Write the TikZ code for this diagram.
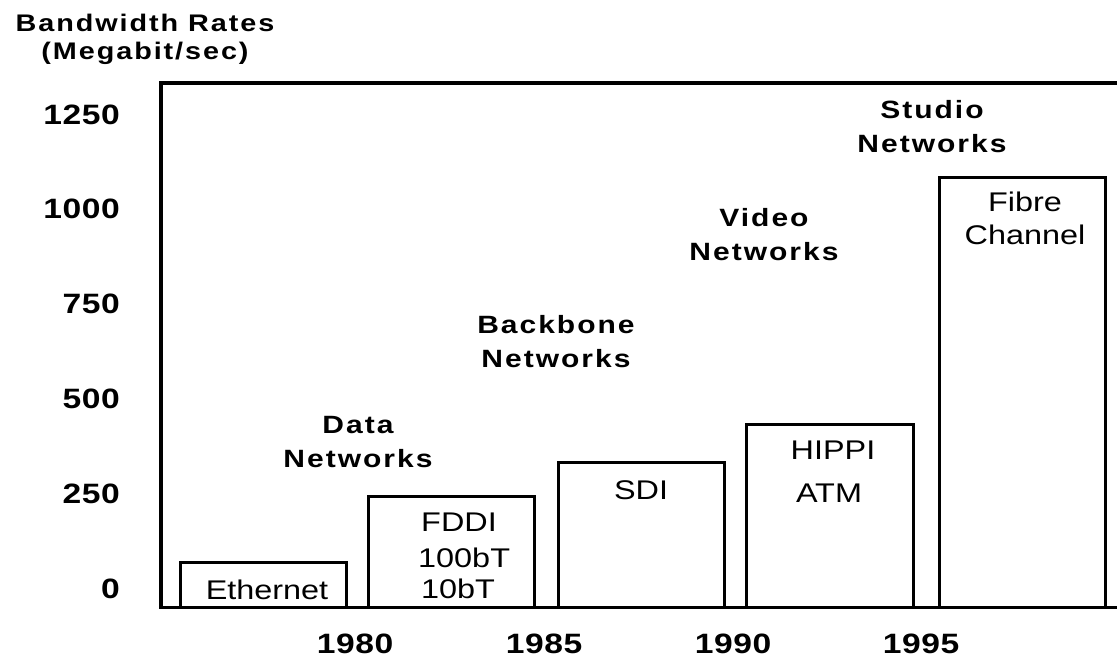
\documentclass[tikz,border=0pt]{standalone}
\usepackage{fontspec}
\setmainfont{Liberation Sans}
\newfontfamily\headfont{Liberation Sans Bold}[FakeStretch=1.2, LetterSpace=8]
\newfontfamily\numfont{Liberation Sans Bold}[FakeStretch=1.2, LetterSpace=2]
\newfontfamily\boxfont{Liberation Sans}[FakeStretch=1.2]

\tikzset{
  axisline/.style={line width=3.4pt, line cap=rect},
  bar/.style={line width=3pt},
  heading/.style={font=\headfont\fontsize{25}{34}\selectfont, align=center, inner sep=0pt, anchor=base},
  ticklabel/.style={font=\numfont\fontsize{28}{34}\selectfont, inner sep=0pt},
  boxlabel/.style={font=\boxfont\fontsize{27}{33}\selectfont, inner sep=0pt, anchor=base},
}

\begin{document}
\begin{tikzpicture}[x=1pt, y=-1pt]
  \useasboundingbox (0,0) rectangle (1117,657);

  % frame: left axis, top rule and base line
  \coordinate (tr) at (1117,83);
  \coordinate (tl) at (161,83);
  \coordinate (bl) at (161,607.5);
  \coordinate (br) at (1117,607.5);
  \draw[axisline] (tr) -- (tl) -- (bl) -- (br);

  % bars
  \draw[bar] (180,607.5) rectangle (346,562);
  \draw[bar] (368,607.5) rectangle (534,496);
  \draw[bar] (558,607.5) rectangle (724,462);
  \draw[bar] (746,607.5) rectangle (913,424);
  \draw[bar] (939,607.5) rectangle (1105,177);

  % vertical axis title (anchored at the baseline of its last line)
  \node[heading, font=\headfont\fontsize{24}{28}\selectfont] (ytitle) at (145,59.5) {Bandwidth Rates\\(Megabit/sec)};

  % vertical axis values
  \node[ticklabel, anchor=base east] (y1250) at (120,124) {1250};
  \node[ticklabel, anchor=base east] (y1000) at (120,218.8) {1000};
  \node[ticklabel, anchor=base east] (y750) at (120,313.6) {750};
  \node[ticklabel, anchor=base east] (y500) at (120,408.4) {500};
  \node[ticklabel, anchor=base east] (y250) at (120,503.2) {250};
  \node[ticklabel, anchor=base east] (y0) at (120,598) {0};

  % horizontal axis years
  \node[ticklabel, anchor=base] (x1980) at (355,653) {1980};
  \node[ticklabel, anchor=base] (x1985) at (544,653) {1985};
  \node[ticklabel, anchor=base] (x1990) at (733,653) {1990};
  \node[ticklabel, anchor=base] (x1995) at (921,653) {1995};

  % network classes
  \node[heading] (data) at (358,467) {Data\\Networks};
  \node[heading] (backbone) at (556,367) {Backbone\\Networks};
  \node[heading] (video) at (764,260) {Video\\Networks};
  \node[heading] (studio) at (932,152.5) {Studio\\Networks};

  % technologies
  \node[boxlabel] (ethernet) at (267,599) {Ethernet};
  \node[boxlabel, anchor=base west] (fddi) at (421,531.5) {FDDI};
  \node[boxlabel, anchor=base west] (t100) at (418,567) {100bT};
  \node[boxlabel, anchor=base west] (t10) at (421,598) {10bT};
  \node[boxlabel] (sdi) at (641,499) {SDI};
  \node[boxlabel] (hippi) at (833,459) {HIPPI};
  \node[boxlabel] (atm) at (829,502) {ATM};
  \node[boxlabel, align=center] (fibre) at (1025,244) {Fibre\\Channel};
\end{tikzpicture}
\end{document}
